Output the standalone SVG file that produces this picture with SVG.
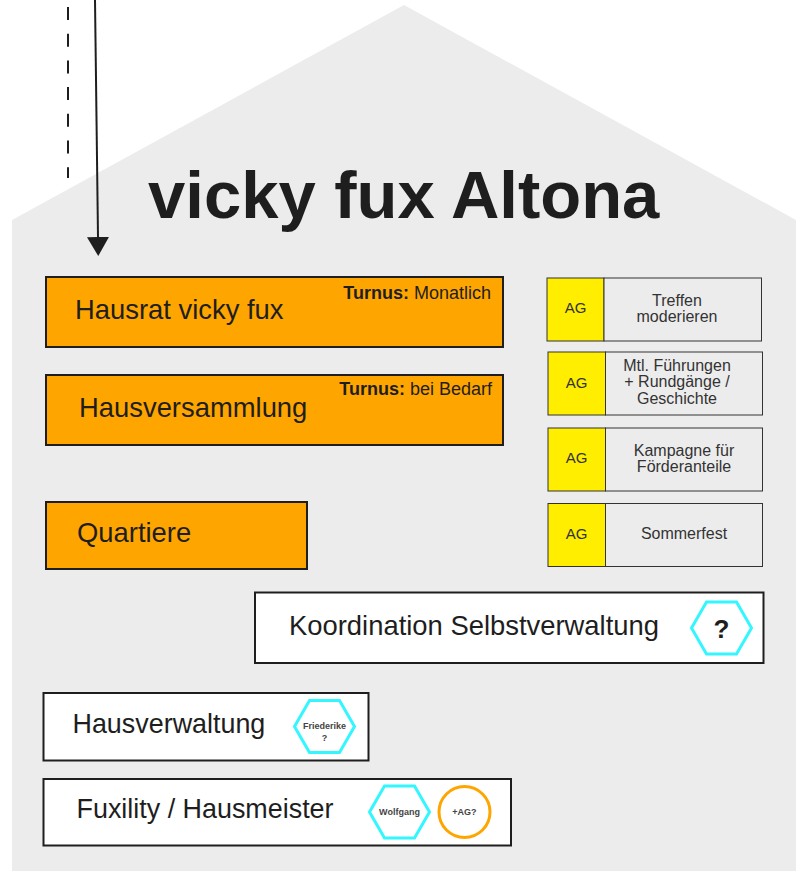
<svg xmlns="http://www.w3.org/2000/svg" width="796" height="879" viewBox="0 0 796 879">
  <defs>
    <style>
      text { font-family: "Liberation Sans", Arial, Helvetica, sans-serif; fill: #1e1e1e; }
      .orange { fill: #ffa500; stroke: #1e1e1e; stroke-width: 2; }
      .white { fill: #ffffff; stroke: #1e1e1e; stroke-width: 2; }
      .big { font-size: 27.4px; }
      .big2 { font-size: 26.9px; }
      .turnus { font-size: 18px; text-anchor: end; }
      .agl { fill: #ffee00; stroke: #333333; stroke-width: 1; }
      .agr { fill: #ececec; stroke: #333333; stroke-width: 1; }
      .agt { font-size: 15px; fill: #333333; text-anchor: middle; }
      .agd { font-size: 16px; fill: #333333; text-anchor: middle; }
      .hex { fill: #ffffff; stroke: #33f6ff; stroke-width: 3; }
      .small { font-size: 9px; font-weight: bold; fill: #444444; text-anchor: middle; }
    </style>
    <marker id="arrow" markerUnits="userSpaceOnUse" markerWidth="20" markerHeight="22" refX="0" refY="11" orient="auto">
      <path d="M0,0 L19,11 L0,22 Z" fill="#1e1e1e"/>
    </marker>
  </defs>

  <polygon id="house" points="12,220 404,5 796,220 796,871 12,871" fill="#ececec"/>

  <text id="title" x="148" y="218" font-size="67" font-weight="bold">vicky fux Altona</text>

  <g id="connectors">
    <line x1="68" y1="7" x2="68" y2="178" stroke="#1e1e1e" stroke-width="2" stroke-dasharray="13 13.7"/>
    <line x1="95" y1="0" x2="98" y2="237" stroke="#1e1e1e" stroke-width="2" marker-end="url(#arrow)"/>
  </g>

  <g id="hausrat">
    <rect class="orange" x="46" y="277" width="457" height="70"/>
    <text class="big" x="75" y="319">Hausrat vicky fux</text>
    <text class="turnus" x="491" y="299"><tspan font-weight="bold">Turnus:</tspan> Monatlich</text>
  </g>

  <g id="hausversammlung">
    <rect class="orange" x="46" y="375" width="457" height="70"/>
    <text class="big" x="79" y="417">Hausversammlung</text>
    <text class="turnus" x="492" y="395"><tspan font-weight="bold">Turnus:</tspan> bei Bedarf</text>
  </g>

  <g id="quartiere">
    <rect class="orange" x="46" y="502" width="261" height="67"/>
    <text class="big" x="77" y="542">Quartiere</text>
  </g>

  <g id="ag1">
    <rect class="agl" x="547" y="278" width="57" height="63"/>
    <rect class="agr" x="604" y="278" width="157.5" height="63"/>
    <text class="agt" x="575.5" y="313">AG</text>
    <text class="agd" x="677" y="305.5">Treffen</text>
    <text class="agd" x="677" y="322">moderieren</text>
  </g>

  <g id="ag2">
    <rect class="agl" x="548" y="352" width="57.5" height="63"/>
    <rect class="agr" x="605.5" y="352" width="157" height="63"/>
    <text class="agt" x="576.5" y="387.5">AG</text>
    <text class="agd" x="677" y="370.5">Mtl. Führungen</text>
    <text class="agd" x="677" y="387">+ Rundgänge /</text>
    <text class="agd" x="677" y="403.5">Geschichte</text>
  </g>

  <g id="ag3">
    <rect class="agl" x="548" y="428" width="57.5" height="63"/>
    <rect class="agr" x="605.5" y="428" width="157" height="63"/>
    <text class="agt" x="576.5" y="463">AG</text>
    <text class="agd" x="684" y="455.5">Kampagne für</text>
    <text class="agd" x="684" y="472">Förderanteile</text>
  </g>

  <g id="ag4">
    <rect class="agl" x="548" y="503.5" width="57.5" height="63"/>
    <rect class="agr" x="605.5" y="503.5" width="157" height="63"/>
    <text class="agt" x="576.5" y="539">AG</text>
    <text class="agd" x="684" y="539">Sommerfest</text>
  </g>

  <g id="koordination">
    <rect class="white" x="255" y="592.5" width="508.5" height="70.5"/>
    <text class="big" x="289" y="635">Koordination Selbstverwaltung</text>
    <polygon class="hex" points="691.5,628 706.5,602 736.5,602 751.5,628 736.5,654 706.5,654"/>
    <text x="721.5" y="638" font-size="26" font-weight="bold" fill="#333333" text-anchor="middle">?</text>
  </g>

  <g id="hausverwaltung">
    <rect class="white" x="43.5" y="693" width="325" height="67.5"/>
    <text class="big2" x="72.5" y="733">Hausverwaltung</text>
    <polygon class="hex" points="294.5,726.5 309.5,700.5 339.5,700.5 354.5,726.5 339.5,752.5 309.5,752.5"/>
    <text class="small" x="324.5" y="729">Friederike</text>
    <text class="small" x="324.5" y="741">?</text>
  </g>

  <g id="fuxility">
    <rect class="white" x="43.5" y="779" width="467.5" height="66.5"/>
    <text class="big2" x="76.5" y="818">Fuxility / Hausmeister</text>
    <polygon class="hex" points="369.5,812 384.5,786 414.5,786 429.5,812 414.5,838 384.5,838"/>
    <text class="small" x="399.5" y="815">Wolfgang</text>
    <circle cx="464.5" cy="812" r="25.5" fill="#ffffff" stroke="#ffa500" stroke-width="3"/>
    <text class="small" x="464.5" y="815">+AG?</text>
  </g>
</svg>
